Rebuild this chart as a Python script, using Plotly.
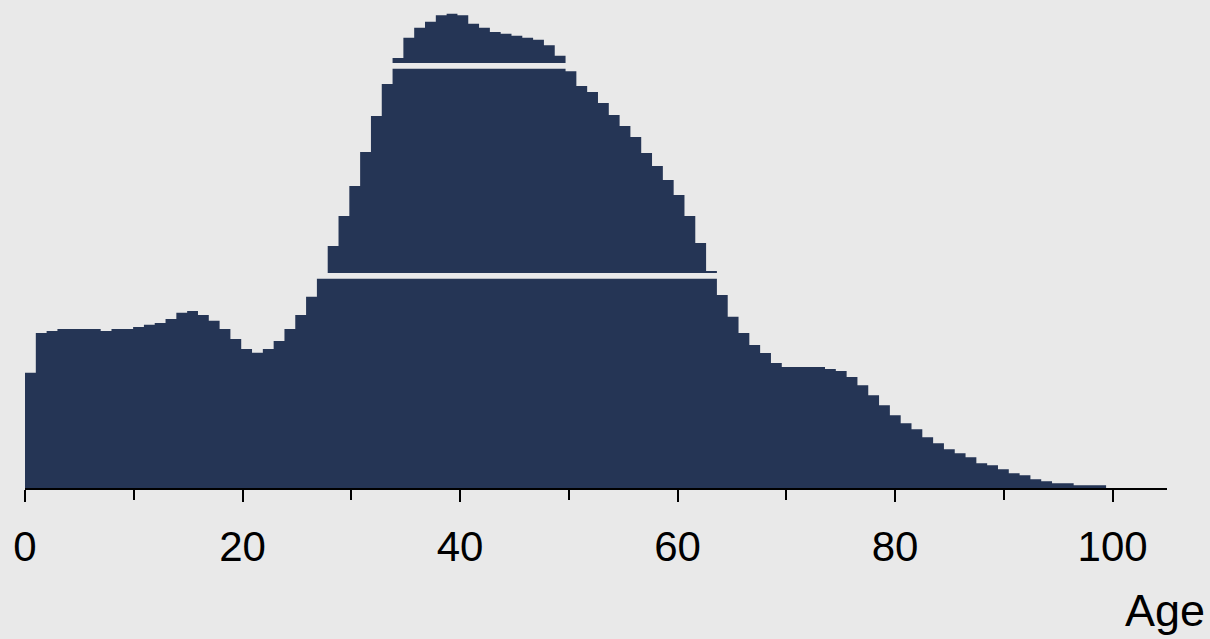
import plotly.graph_objects as go

# Histogram of ages: 100 equal-width bins from 0 to 99.4
age_min = 0.0
age_max = 99.4
heights = [
    115.3, 155, 157, 159, 159, 159, 159, 157, 159, 159,      # 0-9
    161, 163.3, 165, 169, 175.3, 177, 173, 167.3, 159, 149,  # 10-19
    139, 135.3, 139, 147, 159, 173, 191.3, 210, 242, 272,    # 20-29
    302, 336, 372, 404, 430, 450.3, 460.3, 466.3, 472.7, 474.3,  # 30-39
    472.7, 464.3, 460.3, 456, 454.3, 452.3, 450.3, 448.3, 442.7, 432.3,  # 40-49
    416.7, 402, 396, 385, 373, 362, 351, 335, 322, 308,      # 50-59
    293, 272, 245, 217, 193, 171.3, 155, 143, 135, 125,      # 60-69
    121, 121, 121, 121, 119, 117, 111, 102.7, 92.7, 82.7,    # 70-79
    72.7, 64.7, 58.7, 50.7, 44.7, 38.7, 34.7, 30.7, 24.7, 22.7,  # 80-89
    18.7, 14.7, 12.7, 8.7, 6.7, 4.7, 4.7, 2.7, 2.7, 2.7,     # 90-99
]
# horizontal cut bands (low, high) in the same units as heights
bands = [(209.3, 215.0), (419.3, 425.0)]

tick_vals = [0, 20, 40, 60, 80, 100]
tick_text = ["0", "20", "40", "60", "80", "100"]
x_title = "Age"

BG = "#e9e9e9"
BAR = "#253555"

n = len(heights)
bw = (age_max - age_min) / n
edges = [age_min + i * bw for i in range(n + 1)]
ys = heights + [heights[-1]]

fig = go.Figure()
fig.add_trace(go.Scatter(
    x=edges, y=ys, mode="lines", line=dict(width=0, shape="hv", color=BAR),
    fill="tozeroy", fillcolor=BAR, hoverinfo="skip", showlegend=False,
))

for lo, hi in bands:
    fig.add_shape(type="rect", xref="paper", x0=0, x1=1, yref="y", y0=lo, y1=hi,
                  fillcolor=BG, line=dict(width=0), layer="above")

fig.add_annotation(text=x_title, xref="paper", yref="paper", x=1.035, y=-0.252,
                   xanchor="right", yanchor="middle", showarrow=False,
                   font=dict(family="Liberation Sans, Arial", size=45, color="black"))

fig.update_layout(
    width=1210, height=639,
    margin=dict(l=25, r=43, t=0, b=151),
    paper_bgcolor=BG, plot_bgcolor=BG,
    font=dict(family="Liberation Sans, Arial", color="black"),
    xaxis=dict(
        range=[0, 105], showgrid=False, zeroline=False,
        showline=True, linecolor="black", linewidth=2,
        ticks="outside", ticklen=12, tickwidth=1.5, tickcolor="black",
        tickvals=tick_vals, ticktext=tick_text,
        tickfont=dict(size=42, family="Liberation Sans, Arial", color="black"),
        ticklabelstandoff=9,
        minor=dict(tickvals=[10, 30, 50, 70, 90], ticks="outside", ticklen=10,
                   tickwidth=1.5, tickcolor="black", showgrid=False),
    ),
    yaxis=dict(range=[0, 488], visible=False, showgrid=False, zeroline=False),
)

fig.write_html(
    "out.html",
    config={"displayModeBar": False},
    post_script="document.body.style.margin='0';document.body.style.padding='0';"
                "document.body.style.background='#e9e9e9';"
                "document.documentElement.style.overflow='hidden';",
)
